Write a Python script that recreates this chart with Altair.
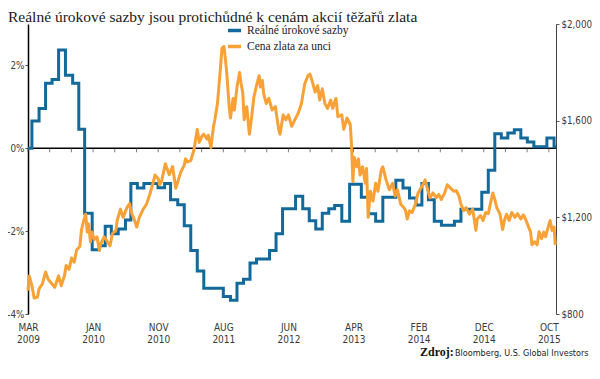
import altair as alt
import pandas as pd

BLUE = "#12699a"
ORANGE = "#f7a136"
SANS = "'Liberation Sans Narrow', 'DejaVu Sans Condensed', Roboto, sans-serif"
SERIF = "'Liberation Serif', 'DejaVu Serif', serif"

TITLE = "Reálné úrokové sazby jsou protichůdné k cenám akcií těžařů zlata"
SERIES = ["Reálné úrokové sazby", "Cena zlata za unci"]
SOURCE_LABEL = "Zdroj:"
SOURCE_TEXT = "Bloomberg, U.S. Global Investors"

# x = months since March 2009
x_label_values = [0, 10, 20, 30, 40, 50, 60, 70, 80]
x_label_lines = [["MAR", "2009"], ["JAN", "2010"], ["NOV", "2010"], ["AUG", "2011"],
                 ["JUN", "2012"], ["APR", "2013"], ["FEB", "2014"], ["DEC", "2014"],
                 ["OCT", "2015"]]
x_minor_ticks = [0, 3.33, 6.67, 10, 13.33, 16.67, 20, 23.33, 26.67, 30, 33.33, 36.67, 40,
                 43.33, 46.67, 50, 53.33, 56.67, 60, 63.33, 66.67, 70, 73.33, 76.67, 80]
left_ticks = [-4, -2, 0, 2]
right_ticks = [800, 1200, 1600, 2000]

# Real interest rates (%), step series: (month, value)
rate_t = [0, 0.6, 1.7, 2.7, 3.7, 4.7, 5.75, 6.86, 7.8, 8.7, 9.86, 10.96, 11.86, 12.8, 13.86,
          14.97, 15.8, 16.8, 17.8, 19.97, 20.98, 21.9, 23.0, 24.0, 25.0, 26.0, 27.0, 30.0,
          31.1, 32.1, 33.1, 34.1, 35.1, 37.1, 38.1, 39.1, 41.1, 42.2, 43.2, 44.2, 45.2, 46.2,
          47.1, 48.2, 49.4, 51.2, 52.3, 53.4, 54.5, 56.5, 57.6, 58.6, 59.6, 60.5, 61.5, 62.4,
          63.5, 65.5, 66.5, 69.7, 70.7, 71.7, 72.7, 73.7, 74.7, 75.7, 76.7, 77.7, 79.7, 80.8,
          81.1]
rate_v = [0.0, 0.66, 0.96, 1.57, 1.66, 2.37, 1.76, 1.57, 0.46, -1.57, -2.45, -2.35, -1.88,
          -2.06, -1.95, -1.73, -0.85, -0.96, -0.85, -0.95, -0.85, -1.24, -1.36, -1.87, -2.47,
          -2.96, -3.38, -3.58, -3.67, -3.26, -3.16, -2.77, -2.67, -2.47, -2.06, -1.46, -1.16,
          -1.46, -1.75, -1.95, -1.57, -1.46, -1.38, -1.76, -0.87, -1.18, -1.58, -1.76, -1.18,
          -0.77, -0.96, -1.2, -1.37, -0.85, -1.24, -1.76, -1.86, -1.76, -1.47, -1.06, -0.53,
          0.35, 0.25, 0.37, 0.45, 0.25, 0.15, 0.04, 0.25, 0.04, 0.04]

# Gold price ($/oz): (month, value)
gold_t = [0.0, 0.2, 0.6, 0.95, 1.46, 1.7, 2.2, 2.7, 3.1, 3.7, 4.1, 4.7, 5.1, 5.6, 5.86, 6.3,
          6.7, 7.1, 7.46, 7.96, 8.2, 8.56, 8.86, 9.1, 9.3, 9.6, 9.8, 10.2, 10.6, 10.96, 11.2,
          11.7, 12.2, 12.6, 12.96, 13.5, 13.7, 14.2, 14.6, 15.2, 15.6, 15.96, 16.3, 16.7, 17.1,
          17.7, 18.2, 18.7, 19.2, 19.5, 20.0, 20.2, 20.5, 21.1, 21.7, 22.2, 22.7, 23.5, 24.0,
          24.2, 24.5, 25.0, 25.5, 26.0, 26.3, 26.7, 27.0, 27.5, 27.7, 28.1, 28.5, 28.7, 29.1,
          29.5, 29.8, 30.1, 30.3, 30.5, 30.6, 30.9, 31.1, 31.5, 31.7, 32.1, 32.5, 32.7, 33.0,
          33.2, 33.6, 34.0, 34.3, 34.7, 35.1, 35.5, 35.7, 36.0, 36.2, 36.6, 37.0, 37.5, 38.0,
          38.5, 38.7, 39.2, 39.6, 40.0, 40.5, 41.0, 41.5, 42.0, 42.5, 43.0, 43.3, 43.7, 44.1,
          44.5, 44.8, 45.2, 45.6, 46.0, 46.5, 46.8, 47.3, 47.6, 48.2, 48.5, 49.0, 49.5, 49.7,
          49.9, 50.1, 50.5, 50.75, 51.0, 51.4, 51.8, 52.0, 52.25, 52.6, 53.0, 53.4, 53.75,
          54.25, 54.5, 55.0, 55.5, 56.0, 56.4, 56.75, 57.25, 57.75, 58.0, 58.25, 58.6, 59.0,
          59.5, 59.9, 60.5, 61.0, 61.4, 61.75, 62.2, 62.7, 63.1, 63.5, 64.0, 64.4, 64.9, 65.4,
          65.8, 66.2, 66.5, 66.9, 67.3, 67.8, 68.3, 68.8, 69.0, 69.5, 69.9, 70.3, 70.7, 71.0,
          71.4, 71.7, 72.0, 72.5, 72.9, 73.2, 73.5, 73.9, 74.3, 74.8, 75.2, 75.7, 76.1, 76.5,
          76.8, 77.2, 77.4, 77.8, 78.2, 78.5, 78.9, 79.2, 79.5, 79.9, 80.2, 80.5, 80.8, 81.0]
gold_v = [897, 957, 917, 866, 870, 904, 924, 974, 944, 924, 910, 958, 917, 958, 1001, 985,
          1032, 1014, 1065, 1079, 1146, 1187, 1213, 1139, 1173, 1099, 1139, 1108, 1119, 1063,
          1092, 1119, 1099, 1082, 1132, 1146, 1187, 1234, 1200, 1240, 1257, 1213, 1193, 1160,
          1200, 1234, 1254, 1294, 1341, 1375, 1360, 1335, 1348, 1422, 1376, 1410, 1320, 1390,
          1415, 1442, 1429, 1435, 1480, 1564, 1510, 1535, 1544, 1523, 1540, 1489, 1577, 1604,
          1671, 1799, 1900, 1907, 1860, 1806, 1772, 1658, 1611, 1692, 1644, 1739, 1799, 1759,
          1712, 1604, 1658, 1544, 1604, 1698, 1745, 1786, 1739, 1766, 1712, 1671, 1692, 1644,
          1658, 1564, 1544, 1624, 1604, 1624, 1577, 1604, 1631, 1671, 1752, 1786, 1793, 1759,
          1718, 1745, 1685, 1732, 1671, 1651, 1685, 1651, 1692, 1617, 1624, 1564, 1611, 1584,
          1496, 1348, 1449, 1409, 1442, 1375, 1409, 1341, 1402, 1200, 1308, 1267, 1341, 1308,
          1395, 1409, 1355, 1314, 1341, 1288, 1314, 1254, 1240, 1227, 1193, 1227, 1220, 1254,
          1300, 1328, 1355, 1314, 1281, 1301, 1281, 1295, 1274, 1301, 1335, 1321, 1308, 1310,
          1288, 1254, 1227, 1240, 1213, 1234, 1146, 1193, 1207, 1187, 1220, 1215, 1254, 1301,
          1274, 1240, 1213, 1150, 1190, 1213, 1187, 1220, 1200, 1215, 1193, 1210, 1187, 1166,
          1139, 1086, 1099, 1086, 1140, 1112, 1139, 1120, 1160, 1187, 1146, 1160, 1086]

rates = pd.DataFrame({"t": rate_t, "v": rate_v, "s": SERIES[0]})
gold = pd.DataFrame({"t": gold_t, "g": gold_v, "s": SERIES[1]})
zero = pd.DataFrame({"v": [0]})
ticks = pd.DataFrame({"t": x_minor_ticks, "v": 0})
one = pd.DataFrame({"a": [0]})

x_scale = alt.Scale(domain=[0, 81.1], nice=False, zero=False)
y_scale = alt.Scale(domain=[-4, 3], nice=False)
g_scale = alt.Scale(domain=[800, 2000], nice=False)
color_scale = alt.Scale(domain=SERIES, range=[BLUE, ORANGE])
legend = alt.Legend(title=None, orient="none", legendX=198, legendY=-2,
                    symbolType="stroke", symbolStrokeWidth=3.5, symbolSize=170,
                    labelFont=SERIF, labelFontSize=11.5, labelColor="#222",
                    rowPadding=-2, padding=0, labelOffset=4)

label_expr = "[" + ",".join("['%s','%s']" % (a, b) for a, b in x_label_lines) + "][round(datum.value/10)]"

x_axis = alt.Axis(values=x_label_values, labelExpr=label_expr, domain=False, ticks=False,
                  grid=False, labelPadding=8, labelFont=SANS, labelFontSize=10,
                  labelColor="#3a3a3a", labelLineHeight=12, labelOverlap=False,
                  labelFlush=False, labelBound=False, title=None)
left_axis = alt.Axis(values=left_ticks, labelExpr="datum.value + '%'", grid=False,
                     domainColor="#000", domainWidth=1.5, tickColor="#555", tickSize=3,
                     labelPadding=1, labelFont=SANS, labelFontSize=9.8, labelColor="#3a3a3a",
                     title=None)
right_axis = alt.Axis(values=right_ticks, orient="right",
                      labelExpr="'$' + format(datum.value, ',')", grid=False,
                      domainColor="#444", domainWidth=1, tickColor="#555", tickSize=3,
                      labelPadding=2, labelFont=SANS, labelFontSize=9.7, labelColor="#3a3a3a",
                      title=None)

zero_rule = alt.Chart(zero).mark_rule(color="#000", strokeWidth=1.5).encode(
    y=alt.Y("v:Q", scale=y_scale, axis=left_axis))
minor = alt.Chart(ticks).mark_tick(orient="vertical", size=4, thickness=1, color="#444",
                                   yOffset=2).encode(
    x=alt.X("t:Q", scale=x_scale, axis=x_axis),
    y=alt.Y("v:Q", scale=y_scale, axis=left_axis))
rate_line = alt.Chart(rates).mark_line(interpolate="step-after", strokeWidth=3,
                                       strokeJoin="miter").encode(
    x=alt.X("t:Q", scale=x_scale, axis=x_axis),
    y=alt.Y("v:Q", scale=y_scale, axis=left_axis),
    color=alt.Color("s:N", scale=color_scale, legend=legend))

title_mark = alt.Chart(one).mark_text(text=TITLE, font=SERIF, fontSize=15.5, color="#1a1a1a",
                                      align="left", baseline="alphabetic").encode(
    x=alt.value(-20), y=alt.value(-2))
foot1 = alt.Chart(one).mark_text(text=SOURCE_LABEL, font=SERIF, fontSize=12,
                                 fontWeight="bold", color="#111", align="left",
                                 baseline="alphabetic").encode(
    x=alt.value(392), y=alt.value(332))
foot2 = alt.Chart(one).mark_text(text=SOURCE_TEXT, font=SANS, fontSize=9, color="#222",
                                 align="left", baseline="alphabetic").encode(
    x=alt.value(427), y=alt.value(332))

left_layer = alt.layer(zero_rule, minor, rate_line, title_mark, foot1, foot2)

gold_line = alt.Chart(gold).mark_line(strokeWidth=3, strokeJoin="round").encode(
    x=alt.X("t:Q", scale=x_scale, axis=x_axis),
    y=alt.Y("g:Q", scale=g_scale, axis=right_axis),
    color=alt.Color("s:N", scale=color_scale, legend=legend))

chart = alt.layer(left_layer, gold_line).resolve_scale(y="independent").properties(
    width=528, height=290,
    autosize=alt.AutoSizeParams(type="none"),
    padding={"left": 20, "top": 16, "right": 36, "bottom": 45},
).configure_view(stroke=None)

chart.save("out.html", embed_options={"renderer": "svg", "actions": False})
